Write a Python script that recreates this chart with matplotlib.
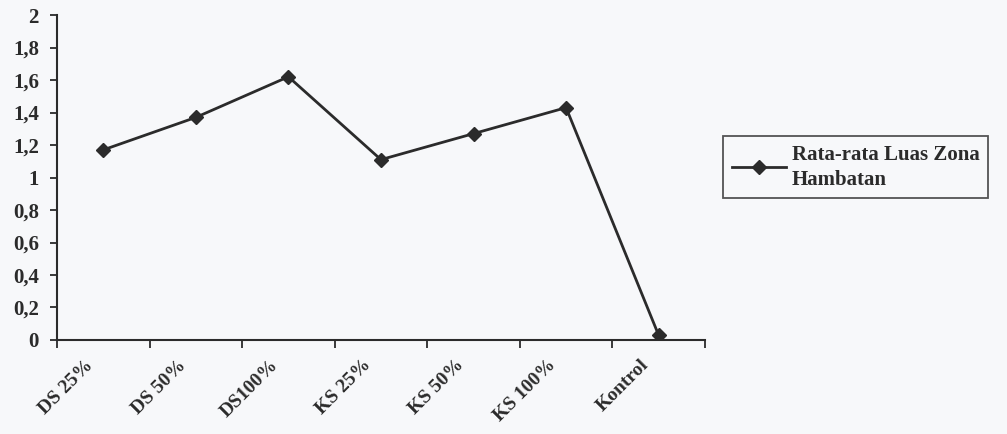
import matplotlib.pyplot as plt
import numpy as np

categories = ['DS 25%', 'DS 50%', 'DS100%', 'KS 25%', 'KS 50%', 'KS 100%', 'Kontrol']
rata_rata = [1.17, 1.37, 1.62, 1.11, 1.27, 1.43, 0.03]
y_ticks = [0, 0.2, 0.4, 0.6, 0.8, 1, 1.2, 1.4, 1.6, 1.8, 2]
y_labels = ['0', '0,2', '0,4', '0,6', '0,8', '1', '1,2', '1,4', '1,6', '1,8', '2']

plt.rcParams['font.family'] = ['Liberation Serif', 'DejaVu Serif']
plt.rcParams['font.weight'] = 'bold'

bg = '#f7f8fa'
ink = '#2b2b2b'

fig = plt.figure(figsize=(10.07, 4.34), dpi=100, facecolor=bg)
ax = fig.add_axes([0.0566, 0.2166, 0.6434, 0.7488])
ax.set_facecolor(bg)

x = np.arange(len(categories))
ax.plot(x, rata_rata, color=ink, linewidth=2, marker='D', markersize=7,
        markerfacecolor=ink, markeredgecolor=ink,
        label='Rata-rata Luas Zona\nHambatan')

ax.set_xlim(-0.5, len(categories) - 0.5)
ax.set_ylim(0, 2)

ax.set_yticks(y_ticks)
ax.set_yticklabels(y_labels, fontsize=15, fontweight='bold', color=ink)

ax.set_xticks(np.arange(-0.5, len(categories), 1))
ax.set_xticklabels([])
# category labels end a little left of each point
ax.set_xticks(x - 0.2, minor=True)
ax.set_xticklabels(categories, minor=True, rotation=45, ha='right',
                   rotation_mode='anchor', fontsize=14, fontweight='bold',
                   color=ink)
ax.tick_params(axis='x', which='minor', length=0, pad=12)
ax.tick_params(axis='x', which='major', length=6, width=1.3, color=ink,
               direction='out')
ax.tick_params(axis='y', length=5, width=1.3, color=ink, direction='out',
               pad=8)

for side in ['top', 'right']:
    ax.spines[side].set_visible(False)
for side in ['left', 'bottom']:
    ax.spines[side].set_color(ink)
    ax.spines[side].set_linewidth(1.5)

leg = fig.legend(loc='upper left', bbox_to_anchor=(0.708, 0.71),
                 frameon=True, fancybox=False, fontsize=15,
                 handlelength=2.6, handletextpad=0.3,
                 borderpad=0.4, labelspacing=0.2)
leg.get_frame().set_edgecolor(ink)
leg.get_frame().set_linewidth(1.3)
leg.get_frame().set_facecolor(bg)
for t in leg.get_texts():
    t.set_color(ink)
    t.set_fontweight('bold')
    t.set_linespacing(1.35)

fig.savefig('out.png', dpi=100, facecolor=bg)
